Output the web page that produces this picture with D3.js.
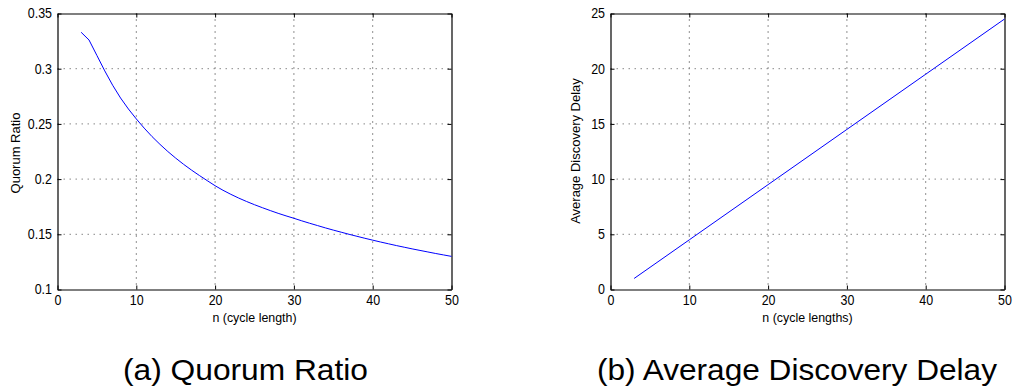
<!DOCTYPE html>
<html><head><meta charset="utf-8">
<script src="https://cdn.jsdelivr.net/npm/d3@7"></script>
<style>
body{margin:0;background:#fff}
svg{display:block}
text{font-family:"Liberation Sans",Arial,Helvetica,sans-serif;fill:#000}
</style>
</head><body>
<svg id="c" width="1013" height="390"></svg>
<script>
// ---- data ----
const cycleLengthA = [3,4,5,6,7,8,9,10,11,12,13,14,15,16,17,18,19,20,21,22,23,24,25,26,27,28,29,30,31,32,33,34,35,36,37,38,39,40,41,42,43,44,45,46,47,48,49,50];
const quorumRatio = [0.333,0.326,0.312,0.298,0.285,0.2735,0.2635,0.2545,0.2462,0.2385,0.2315,0.2250,0.2190,0.2134,0.2082,0.2033,0.1986,0.1940,0.1899,0.1862,0.1828,0.1797,0.1768,0.1741,0.1715,0.1690,0.1667,0.1645,0.1622,0.1600,0.1579,0.1558,0.1538,0.1519,0.1500,0.1482,0.1464,0.1447,0.1430,0.1414,0.1398,0.1383,0.1368,0.1354,0.1340,0.1326,0.1313,0.1300];
const cycleLengthB = [3,10,20,30,40,50];
const discoveryDelay = [1,4.5,9.5,14.5,19.5,24.5];
const xTicks = [0,10,20,30,40,50];
const yTicksA = [0.1,0.15,0.2,0.25,0.3,0.35];
const yTicksB = [0,5,10,15,20,25];
const xLabels = ["n (cycle length)","n (cycle lengths)"];
const yLabels = ["Quorum Ratio","Average Discovery Delay"];
const captions = ["(a) Quorum Ratio","(b) Average Discovery Delay"];

const svg = d3.select("#c");
const SX = 0.89;

function panel(o){
  const x = d3.scaleLinear().domain([0,50]).range([o.L,o.R]);
  const y = d3.scaleLinear().domain(o.yDomain).range([o.B,o.T]);
  const g = svg.append("g");
  // grid
  g.selectAll(".vg").data(xTicks.slice(1,-1)).join("line")
    .attr("x1",d=>x(d)).attr("x2",d=>x(d)).attr("y1",o.T).attr("y2",o.B)
    .attr("stroke","#222").attr("stroke-width",1).attr("stroke-dasharray","1,5");
  g.selectAll(".hg").data(o.yTicks.slice(1,-1)).join("line")
    .attr("x1",o.L).attr("x2",o.R).attr("y1",d=>y(d)).attr("y2",d=>y(d))
    .attr("stroke","#888").attr("stroke-width",1).attr("stroke-dasharray","1.5,4.5");
  // axes
  const ax = [
    [d3.axisBottom(x).tickValues(xTicks).tickFormat(d3.format("d")), `translate(0,${o.B})`, true, false],
    [d3.axisTop(x).tickValues(xTicks).tickFormat(""), `translate(0,${o.T})`, false, false],
    [d3.axisLeft(y).tickValues(o.yTicks).tickFormat(d=>String(+d.toFixed(2))), `translate(${o.L},0)`, true, true],
    [d3.axisRight(y).tickValues(o.yTicks).tickFormat(""), `translate(${o.R},0)`, false, false]
  ];
  ax.forEach(([a,t,lab,left])=>{
    const s = g.append("g").attr("transform",t)
      .call(a.tickSizeInner(-4).tickSizeOuter(0).tickPadding(6));
    s.select(".domain").attr("stroke","#000").attr("stroke-width",1.2);
    s.selectAll(".tick line").attr("stroke","#000");
    s.selectAll("text").attr("font-size",14).attr("font-family",null)
      .attr("transform",`scale(${SX},1)`);
    if(left) s.selectAll("text").attr("x",-5.5/SX);
    if(!lab) s.selectAll("text").remove();
  });
  // line
  g.append("path").datum(o.xs.map((v,i)=>[v,o.ys[i]]))
    .attr("d",d3.line().x(d=>x(d[0])).y(d=>y(d[1])))
    .attr("fill","none").attr("stroke","#0000ff").attr("stroke-width",1);
  // labels
  g.append("text").attr("transform",`translate(${(o.L+o.R)/2},322) scale(0.92,1)`)
    .attr("text-anchor","middle").attr("font-size",13.5).text(o.xLabel);
  g.append("text").attr("transform",`translate(${o.yLabX},${o.yLabY}) rotate(-90)`)
    .attr("text-anchor","middle").attr("font-size",13).text(o.yLabel);
  g.append("text").attr("x",o.capX).attr("y",380).attr("font-size",30)
    .attr("textLength",o.capW).attr("lengthAdjust","spacingAndGlyphs").text(o.caption);
}

panel({L:57.5,R:451.5,T:13.5,B:289.5,yDomain:[0.1,0.35],yTicks:yTicksA,
  xs:cycleLengthA,ys:quorumRatio,xLabel:xLabels[0],yLabel:yLabels[0],
  yLabX:19.5,yLabY:153,capX:123,capW:245,caption:captions[0]});
panel({L:610.5,R:1004.5,T:13.5,B:289.5,yDomain:[0,25],yTicks:yTicksB,
  xs:cycleLengthB,ys:discoveryDelay,xLabel:xLabels[1],yLabel:yLabels[1],
  yLabX:580,yLabY:151,capX:597,capW:400,caption:captions[1]});
</script>
</body></html>
